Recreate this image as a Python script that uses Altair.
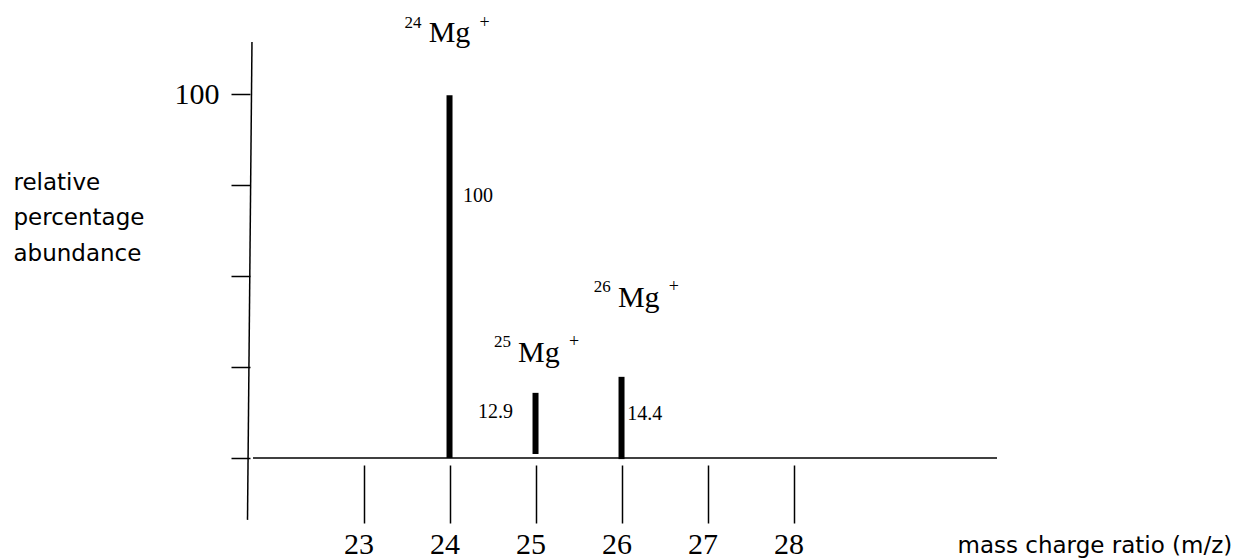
import altair as alt
import pandas as pd

# ---- data ----
masses = [24, 25, 26]
peak_tops = [99.7, 17.9, 22.3]
peak_bases = [0.0, 1.1, -0.3]

value_labels = ["100", "12.9", "14.4"]
value_label_x = [24.33, 24.535, 26.27]
value_label_y = [70.3, 11.0, 10.4]

isotope_numbers = ["24", "25", "26"]
ion_label_x = [24.0, 25.04, 26.2]
ion_label_y = [114.3, 26.4, 41.5]

x_ticks = [23, 24, 25, 26, 27, 28]
y_ticks = [0, 25, 50, 75, 100]
x_domain = [21.68, 30.366]
y_domain = [-1.923, 114.3]

# hand-drawn axis lines (data units)
axis_x_start = [21.715, 21.703]
axis_x_end = [30.366, 21.651]
axis_y_start = [0.0, 114.3]
axis_y_end = [0.0, -17.0]

serif = "Liberation Serif"
sans = "DejaVu Sans"

x_axis = alt.Axis(
    values=x_ticks, domain=False, grid=False, tickSize=58, tickWidth=1.5,
    tickColor="black", labelFont=serif, labelFontSize=30, labelColor="black",
    labelPadding=30, labelBaseline="alphabetic", labelFlush=False,
    labelOverlap=False, labelOffset=-5,
    title="mass charge ratio (m/z)", titleFont=sans, titleFontSize=23,
    titleFontWeight="normal", titleColor="black", titleX=707, titleY=87,
    titleAlign="left", titleBaseline="alphabetic", titleAngle=0,
)
y_axis = alt.Axis(
    values=y_ticks, domain=False, grid=False, tickSize=19, tickWidth=1.5,
    tickColor="black", labelExpr="datum.value == 100 ? '100' : ''",
    labelFont=serif, labelFontSize=30, labelColor="black", labelPadding=12,
    labelOverlap=False,
    title=["relative", "percentage", "abundance"], titleAngle=0,
    titleX=-237, titleY=147, titleAlign="left", titleBaseline="alphabetic",
    titleLineHeight=35.5, titleFont=sans, titleFontSize=23,
    titleFontWeight="normal", titleColor="black",
)

X = alt.X("x:Q", scale=alt.Scale(domain=x_domain, nice=False, zero=False), axis=x_axis)
Y = alt.Y("y:Q", scale=alt.Scale(domain=y_domain, nice=False, zero=False), axis=y_axis)

axes_df = pd.DataFrame({"x": axis_x_start, "x2": axis_x_end,
                        "y": axis_y_start, "y2": axis_y_end})
peaks_df = pd.DataFrame({"x": masses, "y": peak_bases, "y2": peak_tops})
values_df = pd.DataFrame({"x": value_label_x, "y": value_label_y, "label": value_labels})
ions_df = pd.DataFrame({"x": ion_label_x, "y": ion_label_y,
                        "num": isotope_numbers, "plus": ["+"] * 3,
                        "mg": ["Mg"] * 3})

axes_lines = alt.Chart(axes_df).mark_rule(color="black", strokeWidth=1.5).encode(
    x=X, y=Y, x2="x2:Q", y2="y2:Q")

peaks = alt.Chart(peaks_df).mark_rule(color="black", strokeWidth=6, strokeCap="butt").encode(
    x=X, y=Y, y2="y2:Q")

values = alt.Chart(values_df).mark_text(
    font=serif, fontSize=20, align="center", baseline="alphabetic", color="black"
).encode(x=X, y=Y, text="label:N")

mg = alt.Chart(ions_df).mark_text(
    font=serif, fontSize=30, align="center", baseline="alphabetic", color="black"
).encode(x=X, y=Y, text="mg:N")

sup = alt.Chart(ions_df).mark_text(
    font=serif, fontSize=17, align="right", baseline="alphabetic", color="black",
    dx=-28, dy=-14.5
).encode(x=X, y=Y, text="num:N")

plus = alt.Chart(ions_df).mark_text(
    font=serif, fontSize=18, align="left", baseline="alphabetic", color="black",
    dx=30, dy=-14.5
).encode(x=X, y=Y, text="plus:N")

chart = alt.layer(axes_lines, peaks, values, mg, sup, plus).properties(
    width=747, height=423,
    autosize=alt.AutoSizeParams(type="none"),
    padding={"left": 242, "top": 34, "right": 251, "bottom": 94},
    background="white",
).configure_view(stroke=None)

chart.save("out.html", embed_options={"renderer": "svg", "actions": False})
